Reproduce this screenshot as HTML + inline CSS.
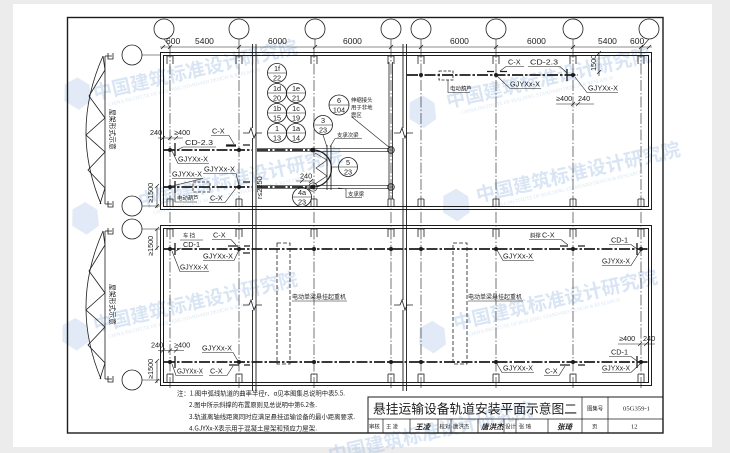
<!DOCTYPE html>
<html><head><meta charset="utf-8">
<style>
html,body{margin:0;padding:0;background:#ececec;}
svg{display:block}
text{font-family:"Liberation Sans","Noto Sans CJK SC",sans-serif;fill:#1c1c1c;stroke:none}
.cj{font-family:"Noto Sans CJK SC","WenQuanYi Zen Hei",sans-serif}
.d{font-size:8.5px}
.l{font-size:7.3px}
.c{font-size:5.4px;font-family:"Noto Sans CJK SC","WenQuanYi Zen Hei",sans-serif}
.n{font-size:7.3px}
.wm{fill:#aac6e6;font-family:"Noto Sans CJK SC","WenQuanYi Zen Hei",sans-serif;font-weight:bold;font-size:19px}
.we{fill:#aac6e6;font-size:5px;font-family:"Liberation Serif",serif}
.sig{font-family:"Noto Sans CJK SC",sans-serif;font-weight:700;font-style:italic;font-size:7.5px;fill:#222}
</style></head><body>
<svg width="730" height="453" viewBox="0 0 730 453" xmlns="http://www.w3.org/2000/svg">
<rect x="0" y="0" width="730" height="453" fill="#ececec"/>
<rect x="13" y="4" width="699" height="443" fill="#ffffff"/>

<!-- watermarks -->
<g opacity="0.45">
 <g transform="translate(95,100) rotate(-13)">
  <polygon points="-26,-22 -12,-26 -2,-16 -4,0 -18,6 -30,-6" fill="#bcd1ea"/>
  <text x="0" y="0" class="wm">中国建筑标准设计研究院</text>
  <text x="12" y="9" class="we">CHINA INSTITUTE OF BUILDING STANDARD DESIGN &amp; RESEARCH</text>
 </g>
 <g transform="translate(140,208) rotate(-13)">
  <polygon points="-66,-14 -52,-18 -42,-8 -44,8 -58,14 -70,2" fill="#bcd1ea"/>
  <text x="0" y="0" class="wm">中国建筑标准设计研究院</text>
  <text x="12" y="9" class="we">CHINA INSTITUTE OF BUILDING STANDARD DESIGN &amp; RESEARCH</text>
 </g>
 <g transform="translate(448,108) rotate(-13)">
  <polygon points="-36,-14 -22,-18 -12,-8 -14,8 -28,14 -40,2" fill="#bcd1ea"/>
  <text x="0" y="0" class="wm">中国建筑标准设计研究院</text>
  <text x="12" y="9" class="we">CHINA INSTITUTE OF BUILDING STANDARD DESIGN &amp; RESEARCH</text>
 </g>
 <g transform="translate(466,205) rotate(-13)">
  <polygon points="-20,-14 -6,-18 4,-8 2,8 -12,14 -24,2" fill="#bcd1ea"/>
  <text x="12" y="0" class="wm">中国建筑标准设计研究院</text>
  <text x="24" y="9" class="we">CHINA INSTITUTE OF BUILDING STANDARD DESIGN &amp; RESEARCH</text>
 </g>
 <g transform="translate(95,332) rotate(-13)">
  <polygon points="-30,-14 -16,-18 -6,-8 -8,8 -22,14 -34,2" fill="#bcd1ea"/>
  <text x="0" y="0" class="wm">中国建筑标准设计研究院</text>
  <text x="12" y="9" class="we">CHINA INSTITUTE OF BUILDING STANDARD DESIGN &amp; RESEARCH</text>
 </g>
 <g transform="translate(455,330) rotate(-13)">
  <polygon points="-34,-10 -20,-14 -10,-4 -12,12 -26,18 -38,6" fill="#bcd1ea"/>
  <text x="0" y="0" class="wm">中国建筑标准设计研究院</text>
  <text x="12" y="9" class="we">CHINA INSTITUTE OF BUILDING STANDARD DESIGN &amp; RESEARCH</text>
 </g>
 <g transform="translate(330,462) rotate(-13)">
  <text x="0" y="0" class="wm">中国建筑标准设计研究院</text>
 </g>
</g>

<g fill="none" stroke="#1c1c1c" stroke-width="0.8">
 <!-- frame -->
 <rect x="67.5" y="17.5" width="595.5" height="415.5" stroke-width="1.4"/>

 <!-- top axis circles -->
 <circle cx="164" cy="29" r="10"/><circle cx="239" cy="29" r="10"/>
 <circle cx="315" cy="29" r="10"/><circle cx="391" cy="29" r="10"/>
 <circle cx="421" cy="29" r="10"/><circle cx="496" cy="29" r="10"/>
 <circle cx="573" cy="29" r="10"/><circle cx="649" cy="29" r="10"/>
 <path d="M164 39 L170 47 M239 39 V47 M315 39 V47 M391 39 V47 M421 39 V47 M496 39 V47 M573 39 V47 M649 39 L642 47" stroke-width="0.6"/>
 <!-- dimension line -->
 <line x1="160" y1="47" x2="652" y2="47" stroke-width="0.6"/>
 <path d="M161 49 L165 45 M168 49 L172 45 M237 49 L241 45 M313 49 L317 45 M389 49 L393 45 M419 49 L423 45 M494 49 L498 45 M571 49 L575 45 M639 49 L643 45 M647 49 L651 45" stroke-width="0.8"/>

 <!-- left axis circles -->
 <circle cx="132" cy="55" r="10"/><circle cx="132" cy="206" r="10"/>
 <circle cx="132" cy="229" r="10"/><circle cx="132" cy="380" r="10"/>
 <path d="M142 55 H160 M142 206 H160 M142 229 H160 M142 380 H160" stroke-width="0.6"/>

 <!-- axis lines -->
 <g stroke-width="0.6" stroke-dasharray="11 2 1.5 2">
  <line x1="170" y1="47" x2="170" y2="390"/>
  <line x1="239" y1="47" x2="239" y2="390"/>
  <line x1="314" y1="47" x2="314" y2="390"/>
  <line x1="391" y1="47" x2="391" y2="390"/>
  <line x1="421" y1="47" x2="421" y2="390"/>
  <line x1="496" y1="47" x2="496" y2="390"/>
  <line x1="573" y1="47" x2="573" y2="390"/>
  <line x1="641" y1="47" x2="641" y2="390"/>
 </g>

 <!-- building walls -->
 <path d="M160.5 52.5 H651.5 V209.5 H160.5 Z M163.5 55.5 H648.5 V206.5 H163.5 Z" stroke-width="1"/>
 <path d="M160.5 225.5 H651.5 V385.5 H160.5 Z M163.5 228.5 H648.5 V382.5 H163.5 Z" stroke-width="1"/>

 <!-- break lines -->
 <path d="M252.5 44 V128 M252.5 138 V300 M252.5 310 V391 M256 44 V391 M403 44 V128 M403 138 V300 M403 310 V391 M406.5 44 V391" stroke-width="0.9"/>
 <path d="M243 133 H249 L251 128 L254 138 L256 133 H262 M394 133 H400 L402 128 L405 138 L407 133 H413" stroke-width="0.8"/>
 <path d="M243 305 H249 L251 300 L254 310 L256 305 H262 M394 305 H400 L402 300 L405 310 L407 305 H413" stroke-width="0.8"/>

 <!-- column markers -->
 <g stroke-width="0.8">
  <path d="M167 64 V56 H173 V64 M236 64 V56 H242 V64 M311 64 V56 H317 V64 M388 64 V56 H394 V64 M418 64 V56 H424 V64 M493 64 V56 H499 V64 M570 64 V56 H576 V64 M638 64 V56 H644 V64"/>
  <path d="M167 199 V206 M173 199 V206 M167 199 H173 M236 199 V206 M242 199 V206 M236 199 H242 M311 199 V206 M317 199 V206 M311 199 H317 M388 199 V206 M394 199 V206 M388 199 H394 M418 199 V206 M424 199 V206 M418 199 H424 M493 199 V206 M499 199 V206 M493 199 H499 M570 199 V206 M576 199 V206 M570 199 H576 M638 199 V206 M644 199 V206 M638 199 H644"/>
  <path d="M167 237 V229 H173 V237 M236 237 V229 H242 V237 M311 237 V229 H317 V237 M388 237 V229 H394 V237 M418 237 V229 H424 V237 M493 237 V229 H499 V237 M570 237 V229 H576 V237 M638 237 V229 H644 V237"/>
  <path d="M167 374 H173 V382 M167 374 V382 M236 374 H242 V382 M236 374 V382 M311 374 H317 V382 M311 374 V382 M388 374 H394 V382 M388 374 V382 M418 374 H424 V382 M418 374 V382 M493 374 H499 V382 M493 374 V382 M570 374 H576 V382 M570 374 V382 M638 374 H644 V382 M638 374 V382"/>
 </g>

 <!-- trusses -->
 <g stroke-width="0.8">
  <path d="M105 56 V204 M103 56 Q70 130 101 204"/>
  <path d="M103 56 L105 70 L89 96 L105 118 L86 135 L105 152 L88 170 L105 188 L100 204"/>
  <path d="M105 56 H112 M108 53 V59 H113 V53 M105 204 H112 M108 201 V207 H113 V201"/>
  <path d="M105 231 V379 M103 231 Q70 305 101 379"/>
  <path d="M103 231 L105 245 L89 271 L105 293 L86 310 L105 327 L88 345 L105 363 L100 379"/>
  <path d="M105 231 H112 M108 228 V234 H113 V228 M105 379 H112 M108 376 V382 H113 V376"/>
 </g>

 <!-- rails -->
 <g stroke-width="1.7" stroke-dasharray="11 2 2.5 2">
  <line x1="164" y1="150" x2="252" y2="150"/>
  <line x1="164" y1="187" x2="252" y2="187"/>
  <line x1="257" y1="150" x2="313" y2="150"/>
  <line x1="257" y1="187" x2="313" y2="187"/>
  <line x1="407" y1="75" x2="578" y2="75"/>
  <line x1="164" y1="249" x2="648" y2="249"/>
  <line x1="164" y1="362" x2="648" y2="362"/>
 </g>
 <!-- middle support beams -->
 <path d="M257 148.3 H389 M257 151.7 H389 M257 185.3 H389 M257 188.7 H389" stroke-width="0.7"/>
 <path d="M389 62 V199 M392.5 62 V199" stroke-width="0.8"/>
 <path d="M327 145 V190 M331 145 V190" stroke-width="0.8"/>
 <path d="M313 150 A18.5 18.5 0 0 1 313 187" stroke-width="1.2"/>
 <path d="M315 153 L327 160 L316 168 L327 176 L315 184" stroke-width="0.6"/>

 <!-- hoists -->
 <rect x="193" y="182" width="17" height="10" stroke-dasharray="3 1.5" stroke-width="0.8"/>
 <rect x="439" y="71" width="14" height="9" stroke-dasharray="3 1.5" stroke-width="0.8"/>
 <!-- cranes -->
 <rect x="277" y="243" width="13" height="121" stroke-dasharray="4 2" stroke-width="0.8"/>
 <rect x="453" y="243" width="14" height="121" stroke-dasharray="4 2" stroke-width="0.8"/>

 <!-- stops and brace markers -->
 <g stroke-width="1.3">
  <path d="M175 143 V156 M175 181 V193 M175 243 V255 M175 356 V368 M637 243 V255 M637 356 V368 M567 69 V81"/>
  <path d="M226 145 H236 M243 145 H250 M226 146 H236 M228 246 H238 M244 246 H250 M229 365 H239 M244 365 H250 M487 71.5 H494 M500 71.5 H507 M560 246 H568 M578 246 H585 M560 365 H570 M578 365 H585 M243 182 H250 M243 253 H250"/>
 </g>

 <!-- leaders & underlines -->
 <g stroke-width="0.6">
  <path d="M158 138 H183 M161 140 L165 136 M168 140 L172 136 M174 140 L178 136"/>
  <path d="M211 135.5 H229 L234 144"/>
  <path d="M183 147 H216 M183 147 L177 150"/>
  <path d="M178 163.5 H209 M178 163.5 L172 151"/>
  <path d="M172 178.5 H203 L172 186"/>
  <path d="M203 173.5 H236 L239 186"/>
  <path d="M175 192 V202 H197"/>
  <path d="M209 202.5 H225 L236 188"/>
  <path d="M157 186 V208 M155 188 L159 184 M155 208 L159 204"/>
  <path d="M524 66.5 H506 L500 71"/>
  <path d="M528 66.5 H560 L567 73"/>
  <path d="M541 88.5 H510 L497 76"/>
  <path d="M618 92.5 H587 L575 77"/>
  <path d="M556 104 H594 M571 106 L575 102 M576 106 L580 102"/>
  <path d="M599 52 V76 M597 74 L601 70 M597 55 L601 51"/>
  <path d="M448 80 V92.5 H470"/>
  <path d="M180 240 H203"/>
  <path d="M181 248 L176 251"/>
  <path d="M212 239.5 H231 L236 245"/>
  <path d="M203 260.5 H234 L239 250"/>
  <path d="M209 271.5 H180 L172 251"/>
  <path d="M157 229 V250 M155 231 L159 227 M155 250 L159 246"/>
  <path d="M158 350.5 H184 M161 352.5 L165 348.5 M168 352.5 L172 348.5 M174 352.5 L178 348.5"/>
  <path d="M202 352.5 H233 L238 361"/>
  <path d="M172 364 L176 375.5 H203"/>
  <path d="M209 375.5 H227 L233 366"/>
  <path d="M157 361 V383 M155 363 L159 359 M155 383 L159 379"/>
  <path d="M529 239.5 H561 L568 245"/>
  <path d="M609 244.5 H631 L637 249"/>
  <path d="M534 260.5 H503 L497 250"/>
  <path d="M602 265.5 H631 L641 250"/>
  <path d="M618 344 H655 M638 346 L642 342 M644 346 L648 342"/>
  <path d="M609 356.5 H631 L637 361"/>
  <path d="M497 364 L502 372.5 H534"/>
  <path d="M544 375.5 H559 L565 366"/>
  <path d="M602 372.5 H631 L641 363"/>
  <path d="M292 301 H347 M468 301 H523"/>
  <path d="M323 135 L327 147"/>
  <path d="M335 138.5 H362 M335 138.5 L330 147"/>
  <path d="M352 117 L390 148"/>
  <path d="M338.5 167 H332"/>
  <path d="M308 190 L313 187"/>
  <path d="M346 189 V197.5 H362 M346 189 L338 188"/>
  <path d="M296 181 H313 M300 183 L304 179 M309 183 L313 179"/>
 </g>

 <!-- numbered circles -->
 <g stroke-width="0.8">
  <circle cx="277" cy="73" r="9.5"/><circle cx="277" cy="93" r="9.5"/><circle cx="296" cy="93" r="9.5"/>
  <circle cx="277" cy="113" r="9.5"/><circle cx="296" cy="113" r="9.5"/>
  <circle cx="277" cy="133" r="9.5"/><circle cx="296" cy="133" r="9.5"/>
  <circle cx="323" cy="125" r="9.5"/><circle cx="339" cy="105" r="10"/>
  <circle cx="348" cy="167" r="9.5"/><circle cx="302" cy="197" r="9.5"/>
  <path d="M267.5 73 H286.5 M267.5 93 H286.5 M286.5 93 H305.5 M267.5 113 H286.5 M286.5 113 H305.5 M267.5 133 H286.5 M286.5 133 H305.5 M313.5 125 H332.5 M329 105 H349 M338.5 167 H357.5 M292.5 197 H311.5" stroke-width="0.6"/>
 </g>

 <!-- dots -->
 <g fill="#1c1c1c" stroke="none">
  <circle cx="170" cy="150" r="2"/><circle cx="239" cy="150" r="2"/>
  <circle cx="170" cy="187" r="2"/><circle cx="239" cy="187" r="2"/>
  <circle cx="313" cy="150" r="2.3"/><circle cx="313" cy="187" r="2.3"/>
  <circle cx="421" cy="75" r="2"/><circle cx="496" cy="75" r="2"/><circle cx="573" cy="75" r="2"/>
  <circle cx="170" cy="249" r="2"/><circle cx="239" cy="249" r="2"/><circle cx="314" cy="249" r="2"/><circle cx="391" cy="249" r="2"/><circle cx="421" cy="249" r="2"/><circle cx="496" cy="249" r="2"/><circle cx="573" cy="249" r="2"/><circle cx="641" cy="249" r="2"/>
  <circle cx="170" cy="362" r="2"/><circle cx="239" cy="362" r="2"/><circle cx="314" cy="362" r="2"/><circle cx="391" cy="362" r="2"/><circle cx="421" cy="362" r="2"/><circle cx="496" cy="362" r="2"/><circle cx="573" cy="362" r="2"/><circle cx="641" cy="362" r="2"/>
 </g>
 <circle cx="313" cy="187" r="4.2" stroke-width="0.7"/>
 <circle cx="391" cy="150" r="3.3" stroke-width="0.8"/><circle cx="391" cy="187" r="3.3" stroke-width="0.8"/>
 <path d="M387.7 150 H394.3 M391 146.7 V153.3 M387.7 187 H394.3 M391 183.7 V190.3" stroke-width="0.6"/>

 <!-- title block -->
 <rect x="368" y="397" width="295" height="36" stroke-width="1"/>
 <path d="M368 419 H663 M582 397 V433 M608 397 V433 M383 419 V433 M410 419 V433 M438 419 V433 M451 419 V433 M478 419 V433 M504 419 V433 M516 419 V433 M548 419 V433" stroke-width="0.7"/>
</g>

<!-- dimension texts -->
<text x="166" y="44" class="d">600</text>
<text x="195" y="44" class="d">5400</text>
<text x="268" y="44" class="d">6000</text>
<text x="343" y="44" class="d">6000</text>
<text x="450" y="44" class="d">6000</text>
<text x="527" y="44" class="d">6000</text>
<text x="598" y="44" class="d">5400</text>
<text x="630" y="44" class="d">600</text>

<!-- truss labels -->
<text transform="translate(110,109) rotate(90)" class="c" style="font-size:6.8px">屋架形式示意</text>
<text transform="translate(110,284) rotate(90)" class="c" style="font-size:6.8px">屋架形式示意</text>

<!-- upper left labels -->
<text x="150" y="135" class="l">240</text>
<text x="174" y="135" class="l">≥400</text>
<text x="212" y="133.5" class="l">C-X</text>
<text x="185" y="145" class="l" textLength="28" lengthAdjust="spacingAndGlyphs">CD-2.3</text>
<text x="178" y="161.5" class="l" textLength="30" lengthAdjust="spacingAndGlyphs">GJYXx-X</text>
<text x="172" y="176.5" class="l" textLength="30" lengthAdjust="spacingAndGlyphs">GJYXx-X</text>
<text x="204" y="171.5" class="l" textLength="31" lengthAdjust="spacingAndGlyphs">GJYXx-X</text>
<text x="177" y="200" class="c">电动葫芦</text>
<text x="210" y="200.5" class="l">C-X</text>
<text transform="translate(153,203) rotate(-90)" class="l">≥1500</text>

<!-- middle upper labels -->
<text x="277" y="71" class="n" text-anchor="middle">1f</text><text x="277" y="80.5" class="n" text-anchor="middle">22</text>
<text x="277" y="91" class="n" text-anchor="middle">1d</text><text x="277" y="100.5" class="n" text-anchor="middle">20</text>
<text x="296" y="91" class="n" text-anchor="middle">1e</text><text x="296" y="100.5" class="n" text-anchor="middle">21</text>
<text x="277" y="111" class="n" text-anchor="middle">1b</text><text x="277" y="120.5" class="n" text-anchor="middle">15</text>
<text x="296" y="111" class="n" text-anchor="middle">1c</text><text x="296" y="120.5" class="n" text-anchor="middle">19</text>
<text x="277" y="131" class="n" text-anchor="middle">1</text><text x="277" y="140.5" class="n" text-anchor="middle">13</text>
<text x="296" y="131" class="n" text-anchor="middle">1a</text><text x="296" y="140.5" class="n" text-anchor="middle">14</text>
<text x="323" y="123" class="n" text-anchor="middle">3</text><text x="323" y="132.5" class="n" text-anchor="middle">23</text>
<text x="339" y="103" class="n" text-anchor="middle">6</text><text x="339" y="112.5" class="n" text-anchor="middle">104</text>
<text x="348" y="165" class="n" text-anchor="middle">5</text><text x="348" y="174.5" class="n" text-anchor="middle">23</text>
<text x="302" y="195" class="n" text-anchor="middle">4a</text><text x="302" y="204.5" class="n" text-anchor="middle">23</text>
<text x="351" y="102" class="c">伸缩接头</text>
<text x="351" y="109.5" class="c">用于非地</text>
<text x="351" y="117" class="c">震区</text>
<text x="337" y="137" class="c">支承次梁</text>
<text x="348" y="196" class="c">支承梁</text>
<text x="300" y="178.5" class="l">240</text>
<text transform="translate(262,199) rotate(-90)" class="l">r≤2250</text>

<!-- upper right labels -->
<text x="508" y="64.5" class="l">C-X</text>
<text x="530" y="64.5" class="l" textLength="28" lengthAdjust="spacingAndGlyphs">CD-2.3</text>
<text x="510" y="86.5" class="l" textLength="30" lengthAdjust="spacingAndGlyphs">GJYXx-X</text>
<text x="588" y="90.5" class="l" textLength="30" lengthAdjust="spacingAndGlyphs">GJYXx-X</text>
<text x="556" y="101" class="l">≥400</text>
<text x="578" y="101" class="l">240</text>
<text transform="translate(596,71) rotate(-90)" class="l">1500</text>
<text x="450" y="90.5" class="c">电动葫芦</text>

<!-- lower left labels -->
<text x="183" y="237.5" class="c">车  挡</text>
<text x="213" y="237.5" class="l">C-X</text>
<text x="183" y="247" class="l">CD-1</text>
<text x="203" y="258.5" class="l" textLength="30" lengthAdjust="spacingAndGlyphs">GJYXx-X</text>
<text x="180" y="269.5" class="l" textLength="28" lengthAdjust="spacingAndGlyphs">GJYXx-X</text>
<text transform="translate(153,256) rotate(-90)" class="l">≥1500</text>
<text x="151" y="347.5" class="l">240</text>
<text x="174" y="347.5" class="l">≥400</text>
<text x="202" y="350.5" class="l" textLength="30" lengthAdjust="spacingAndGlyphs">GJYXx-X</text>
<text x="177" y="373.5" class="l" textLength="26" lengthAdjust="spacingAndGlyphs">GJYXx-X</text>
<text x="210" y="373.5" class="l">C-X</text>
<text transform="translate(153,379) rotate(-90)" class="l">≥1500</text>

<!-- crane labels -->
<text x="292" y="299" class="c" style="font-size:6px">电动单梁悬挂起重机</text>
<text x="468" y="299" class="c" style="font-size:6px">电动单梁悬挂起重机</text>

<!-- lower right labels -->
<text x="530" y="237.5" class="c">斜撑</text>
<text x="542" y="237.5" class="l">C-X</text>
<text x="611" y="242.5" class="l">CD-1</text>
<text x="503" y="258.5" class="l" textLength="30" lengthAdjust="spacingAndGlyphs">GJYXx-X</text>
<text x="602" y="263.5" class="l" textLength="28" lengthAdjust="spacingAndGlyphs">GJYXx-X</text>
<text x="619" y="341" class="l">≥400</text>
<text x="643" y="341" class="l">240</text>
<text x="611" y="354.5" class="l">CD-1</text>
<text x="503" y="370.5" class="l" textLength="30" lengthAdjust="spacingAndGlyphs">GJYXx-X</text>
<text x="545" y="373.5" class="l">C-X</text>
<text x="602" y="370.5" class="l" textLength="28" lengthAdjust="spacingAndGlyphs">GJYXx-X</text>

<!-- notes -->
<text x="177" y="395.5" class="c" style="font-size:6.3px" textLength="168" lengthAdjust="spacingAndGlyphs">注：1.图中弧线轨道的曲率半径r、α见本图集总说明中表5.5.</text>
<text x="189" y="407" class="c" style="font-size:6.3px" textLength="128" lengthAdjust="spacingAndGlyphs">2.图中所示斜撑的布置原则见总说明中第6.2条.</text>
<text x="189" y="419" class="c" style="font-size:6.3px" textLength="166" lengthAdjust="spacingAndGlyphs">3.轨道离轴线距离同时应满足悬挂运输设备的最小距离要求.</text>
<text x="189" y="430.5" class="c" style="font-size:6.3px" textLength="128" lengthAdjust="spacingAndGlyphs">4.GJYXx-X表示用于混凝土屋架和预应力屋架.</text>

<!-- title block text -->
<text x="373" y="413.5" class="cj" style="font-size:13px" textLength="204" lengthAdjust="spacingAndGlyphs">悬挂运输设备轨道安装平面示意图二</text>
<text x="587" y="410.5" class="c">图集号</text>
<text x="623" y="410.5" style="font-size:6.5px;font-family:'Liberation Serif',serif" textLength="27" lengthAdjust="spacingAndGlyphs">05G359-1</text>
<text x="369" y="428.5" class="c">审核</text>
<text x="386" y="428.5" class="c">王  凌</text>
<text x="415" y="429.5" class="sig">王凌</text>
<text x="439.5" y="428.5" class="c">校对</text>
<text x="453" y="428.5" class="c">唐洪杰</text>
<text x="481" y="429.5" class="sig">唐洪杰</text>
<text x="505" y="428.5" class="c">设计</text>
<text x="519" y="428.5" class="c">张   琦</text>
<text x="557" y="429.5" class="sig">张琦</text>
<text x="592" y="428.5" class="c">页</text>
<text x="631" y="428.5" style="font-size:6.5px;font-family:'Liberation Serif',serif">12</text>
</svg>
</body></html>
